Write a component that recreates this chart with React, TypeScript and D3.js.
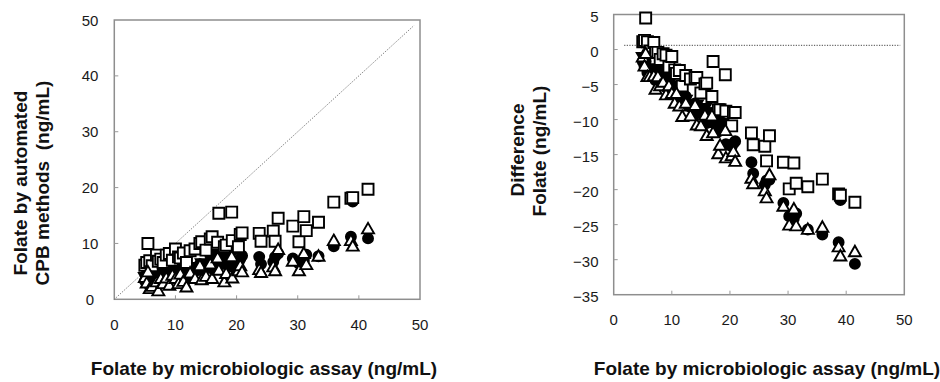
import { useEffect, useRef } from 'react';
import * as d3 from 'd3';

// folate by microbiologic assay (ng/mL), one per sample
const microAssay = [
  5.0, 5.3, 5.5, 5.8, 6.2, 6.9, 7.2, 7.6, 8.0, 8.5, 9.0, 9.5, 10.0, 10.5, 10.8, 11.3,
  11.8, 12.4, 13.2, 14.0, 14.3, 15.0, 15.7, 16.0, 16.9, 17.1, 18.0, 18.3, 19.2, 19.3,
  20.3, 20.6, 20.9, 23.7, 24.0, 26.0, 26.3, 26.8, 29.2, 30.2, 31.0, 31.4, 33.4, 35.9,
  38.7, 39.0, 41.5,
];

// automated CPB methods (ng/mL)
const squareMethod = [
  6.1, 6.6, 10.0, 6.9, 6.0, 7.9, 6.8, 7.2, 6.6, 7.9, 8.2, 7.0, 9.0, 7.6, 7.4, 8.3,
  6.6, 8.7, 9.0, 10.0, 10.3, 8.8, 10.8, 11.2, 10.2, 15.4, 9.4, 9.7, 15.6, 10.5,
  9.4, 11.6, 11.9, 11.8, 10.4, 12.2, 10.4, 14.5, 13.1, 10.3, 14.8, 12.3, 13.8, 17.4,
  18.1, 18.2, 19.7,
];
const circleMethod = [
  3.3, 2.9, 3.8, 2.5, 3.0, 3.6, 2.8, 4.6, 3.4, 4.9, 3.6, 5.5, 4.8, 4.0, 5.6, 4.7,
  3.8, 5.7, 5.0, 6.3, 5.2, 6.0, 6.8, 5.5, 6.5, 7.4, 6.3, 8.0, 8.6, 5.8,
  6.5, 7.2, 7.8, 7.6, 6.3, 6.7, 7.6, 8.2, 7.3, 6.4, 6.9, 8.0, 7.7, 9.5,
  11.2, 17.5, 10.9,
];
const triangleMethod = [
  4.0, 3.0, 5.0, 2.0, 2.4, 3.2, 1.6, 3.8, 2.9, 3.9, 2.6, 4.4, 3.8, 2.9, 4.6, 3.3,
  2.3, 4.8, 3.8, 6.1, 3.6, 4.2, 6.4, 3.8, 7.5, 5.3, 3.2, 4.7, 7.7, 3.9,
  5.2, 6.1, 5.0, 5.4, 4.9, 5.9, 5.2, 9.0, 6.9, 5.2, 8.3, 6.3, 7.8, 10.6,
  10.6, 9.6, 12.7,
];
const invTriangleMethod = [
  3.8, null, 4.2, null, 3.4, 3.9, null, 4.6, 3.0, 5.4, 4.3, 5.0, 5.8, 4.5, 5.2, 5.9,
  4.4, 5.1, 4.9, 5.6, 6.3, 5.7, 7.2, 6.4, 7.8, 8.0, 7.1, 8.5, null, null,
  null, null, null, null, null, null, null, null, null, null, null, null, null, null,
  null, null, null,
];

const xTicks = [0, 10, 20, 30, 40, 50];
const leftYTicks = [0, 10, 20, 30, 40, 50];
const rightYTicks = [5, 0, -5, -10, -15, -20, -25, -30, -35];
const identityLine = [0, 49];
const zeroLine = { from: 1.8, to: 49.3, level: 0.6 };

const xTitle = 'Folate by microbiologic assay (ng/mL)';

type Shape = 'square' | 'circle' | 'tri' | 'invtri';

function markerPath(shape: Shape) {
  if (shape === 'square') return 'M-5.5,-5.5H5.5V5.5H-5.5Z';
  if (shape === 'tri') return 'M0,-5.5L6,5L-6,5Z';
  if (shape === 'invtri') return 'M0,5.5L6,-5L-6,-5Z';
  return d3.symbol(d3.symbolCircle, Math.PI * 25)() as string;
}

export default function App() {
  const svgRef = useRef<SVGSVGElement | null>(null);

  useEffect(() => {
    if (!svgRef.current) return;
    const svg = d3.select(svgRef.current);
    svg.selectAll('*').remove();

    const font = 'Arial, "Liberation Sans", sans-serif';

    const series: { shape: Shape; vals: (number | null)[] }[] = [
      { shape: 'circle', vals: circleMethod },
      { shape: 'invtri', vals: invTriangleMethod },
      { shape: 'square', vals: squareMethod },
      { shape: 'tri', vals: triangleMethod },
    ];

    function panel(opts: {
      xRange: [number, number];
      yDomain: [number, number];
      yRange: [number, number];
      yTicks: number[];
      diff: boolean;
      yLabelX: number;
      yAnchor: string;
      yLabelDy: number;
      xLabelY: number;
    }) {
      const x = d3.scaleLinear().domain([0, 50]).range(opts.xRange);
      const y = d3.scaleLinear().domain(opts.yDomain).range(opts.yRange);
      const g = svg.append('g');

      // plot box
      g.append('rect')
        .attr('x', opts.xRange[0])
        .attr('y', opts.yRange[1])
        .attr('width', opts.xRange[1] - opts.xRange[0])
        .attr('height', opts.yRange[0] - opts.yRange[1])
        .attr('fill', 'none')
        .attr('stroke', '#8e8e8e')
        .attr('stroke-width', 1.5);

      // inward ticks
      g.selectAll('.xt')
        .data(xTicks.slice(1, -1))
        .join('line')
        .attr('x1', d => x(d)).attr('x2', d => x(d))
        .attr('y1', opts.yRange[0]).attr('y2', opts.yRange[0] - 4)
        .attr('stroke', '#999');
      g.selectAll('.yt')
        .data(opts.yTicks.slice(1, -1))
        .join('line')
        .attr('y1', d => y(d)).attr('y2', d => y(d))
        .attr('x1', opts.xRange[0]).attr('x2', opts.xRange[0] + 4)
        .attr('stroke', '#999');

      // tick labels
      g.selectAll('.xl')
        .data(xTicks)
        .join('text')
        .attr('x', d => x(d))
        .attr('y', opts.xLabelY)
        .attr('text-anchor', 'middle')
        .attr('font-family', font)
        .attr('font-size', 15)
        .attr('fill', '#1a1a1a')
        .text(d => d3.format('d')(d));
      g.selectAll('.yl')
        .data(opts.yTicks)
        .join('text')
        .attr('x', opts.yLabelX)
        .attr('y', d => y(d) + opts.yLabelDy)
        .attr('text-anchor', opts.yAnchor)
        .attr('font-family', font)
        .attr('font-size', 15)
        .attr('fill', '#1a1a1a')
        .text(d => d3.format('d')(d));

      // reference line
      if (opts.diff) {
        g.append('line')
          .attr('x1', x(zeroLine.from)).attr('x2', x(zeroLine.to))
          .attr('y1', y(zeroLine.level)).attr('y2', y(zeroLine.level))
          .attr('stroke', '#444')
          .attr('stroke-width', 1)
          .attr('stroke-dasharray', '1.2,1.4');
      } else {
        g.append('line')
          .attr('x1', x(identityLine[0])).attr('y1', y(identityLine[0]))
          .attr('x2', x(identityLine[1])).attr('y2', y(identityLine[1]))
          .attr('stroke', '#666')
          .attr('stroke-width', 0.9)
          .attr('stroke-dasharray', '1.2,1.4');
      }

      // markers
      series.forEach(s => {
        const pts = microAssay
          .map((m, i) => ({ m, v: s.vals[i] }))
          .filter(p => p.v != null) as { m: number; v: number }[];
        g.append('g')
          .selectAll('path')
          .data(pts)
          .join('path')
          .attr('d', markerPath(s.shape))
          .attr('transform', p => `translate(${x(p.m)},${y(opts.diff ? p.v - p.m : p.v)})`)
          .attr('fill', s.shape === 'square' || s.shape === 'tri' ? '#fff' : '#000')
          .attr('stroke', '#000')
          .attr('stroke-width', 1.9);
      });
    }

    panel({
      xRange: [114.3, 420],
      yDomain: [0, 50],
      yRange: [299.3, 20],
      yTicks: leftYTicks,
      diff: false,
      yLabelX: 90,
      yAnchor: 'middle',
      yLabelDy: 5.5,
      xLabelY: 330,
    });
    panel({
      xRange: [613.7, 904.3],
      yDomain: [-35, 5],
      yRange: [294.7, 14.5],
      yTicks: rightYTicks,
      diff: true,
      yLabelX: 598.5,
      yAnchor: 'end',
      yLabelDy: 7.5,
      xLabelY: 325,
    });

    // axis titles
    const title = (tx: number, ty: number, txt: string, rot: boolean) =>
      svg.append('text')
        .attr('transform', rot ? `translate(${tx},${ty}) rotate(-90)` : `translate(${tx},${ty})`)
        .attr('text-anchor', 'middle')
        .attr('font-family', font)
        .attr('font-weight', 'bold')
        .attr('font-size', 19)
        .attr('fill', '#111')
        .attr('xml:space', 'preserve')
        .style('white-space', 'pre')
        .text(txt);

    title(264, 375, xTitle, false);
    title(767, 375, xTitle, false);
    title(27, 183, 'Folate by automated', true);
    title(49, 183, 'CPB methods  (ng/mL)', true);
    title(524, 150, 'Difference', true);
    title(546, 151, 'Folate (ng/mL)', true);
  }, []);

  return (
    <svg
      ref={svgRef}
      width={940}
      height={382}
      style={{ position: 'absolute', left: 0, top: 0, background: '#fff' }}
    />
  );
}
